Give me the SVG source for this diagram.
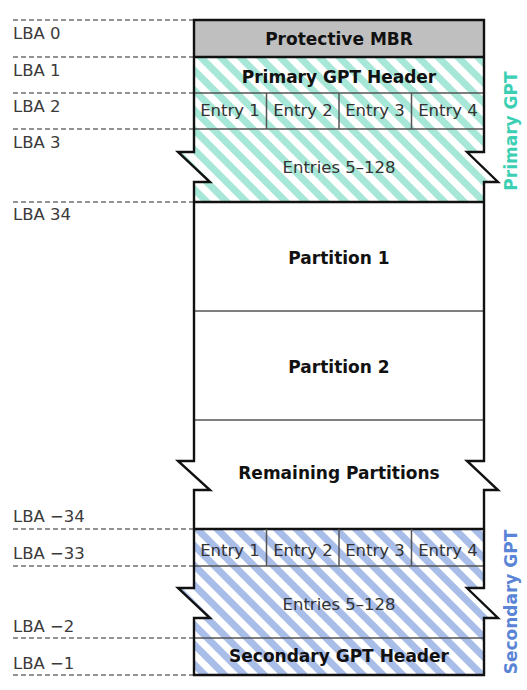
<svg xmlns="http://www.w3.org/2000/svg" width="527" height="690" viewBox="0 0 527 690">
  <style>
    .lba { font-family: "DejaVu Sans", sans-serif; font-size: 16.5px; fill: #3a3a3a; }
    .dash { stroke: #707070; stroke-width: 1.6; stroke-dasharray: 5 3; fill: none; }
    .bold { font-family: "DejaVu Sans", sans-serif; font-size: 17px; font-weight: bold; fill: #111; text-anchor: middle; }
    .norm { font-family: "DejaVu Sans", sans-serif; font-size: 16.5px; fill: #333; text-anchor: middle; }
    .thin { stroke: #555; stroke-width: 1.5; fill: none; }
    .thick { stroke: #111; stroke-width: 2.4; fill: none; }
    .outline { stroke: #111; stroke-width: 2.4; fill: none; stroke-linejoin: miter; }
    .side { font-family: "DejaVu Sans", sans-serif; font-size: 17px; font-weight: bold; text-anchor: middle; }
  </style>
  <defs>
    <pattern id="hatchTeal" width="14" height="14" patternUnits="userSpaceOnUse" patternTransform="rotate(-45)">
      <rect width="14" height="14" fill="#ffffff"/>
      <rect width="7" height="14" fill="#a7e7d7"/>
    </pattern>
    <pattern id="hatchBlue" width="14" height="14" patternUnits="userSpaceOnUse" patternTransform="rotate(-45)">
      <rect width="14" height="14" fill="#ffffff"/>
      <rect width="7" height="14" fill="#a9bde9"/>
    </pattern>
    <path id="diskOutline" d="M194,20 V152 H178 L210,182 H194 V461 H178 L210,490 H194 V588 H178 L210,618 H194 V675 H484 V618 H498 L467,588 H484 V490 H498 L467,461 H484 V182 H498 L467,152 H484 V20 Z"/>
    <clipPath id="diskClip">
      <use href="#diskOutline"/>
    </clipPath>
  </defs>

  <rect width="527" height="690" fill="#ffffff"/>

  <!-- LBA guide lines -->
  <g id="lba-guides">
    <path class="dash" d="M13,20 H194 M13,57 H194 M13,93 H194 M13,129 H194 M13,202 H194 M13,529 H194 M13,566 H194 M13,638 H194 M13,675 H194"/>
    <text class="lba" x="13" y="39">LBA 0</text>
    <text class="lba" x="13" y="76">LBA 1</text>
    <text class="lba" x="13" y="112">LBA 2</text>
    <text class="lba" x="13" y="148">LBA 3</text>
    <text class="lba" x="13" y="220">LBA 34</text>
    <text class="lba" x="13" y="522">LBA −34</text>
    <text class="lba" x="13" y="559">LBA −33</text>
    <text class="lba" x="13" y="632">LBA −2</text>
    <text class="lba" x="13" y="669">LBA −1</text>
  </g>

  <!-- region fills, clipped to the disk outline -->
  <g id="fills" clip-path="url(#diskClip)">
    <rect x="170" y="20" width="340" height="37" fill="#bfbfbf"/>
    <rect x="170" y="57" width="340" height="145" fill="url(#hatchTeal)"/>
    <rect x="170" y="202" width="340" height="327" fill="#ffffff"/>
    <rect x="170" y="529" width="340" height="146" fill="url(#hatchBlue)"/>
  </g>

  <g id="protective-mbr">
    <text class="bold" x="339" y="45">Protective MBR</text>
  </g>

  <g id="primary-header">
    <line class="thick" x1="194" y1="57" x2="484" y2="57"/>
    <text class="bold" x="339" y="83">Primary GPT Header</text>
  </g>

  <g id="primary-entries">
    <path class="thin" d="M194,93 H484 M194,129 H484 M266.5,93 V129 M339,93 V129 M411.5,93 V129"/>
    <text class="norm" x="230" y="116">Entry 1</text>
    <text class="norm" x="303" y="116">Entry 2</text>
    <text class="norm" x="375" y="116">Entry 3</text>
    <text class="norm" x="448" y="116">Entry 4</text>
    <text class="norm" x="339" y="173">Entries 5–128</text>
  </g>

  <g id="partition-1">
    <line class="thick" x1="194" y1="202" x2="484" y2="202"/>
    <text class="bold" x="339" y="264">Partition 1</text>
  </g>

  <g id="partition-2">
    <line class="thin" x1="194" y1="311" x2="484" y2="311" stroke-width="2"/>
    <text class="bold" x="339" y="373">Partition 2</text>
  </g>

  <g id="remaining-partitions">
    <line class="thin" x1="194" y1="420" x2="484" y2="420" stroke-width="2"/>
    <text class="bold" x="339" y="479">Remaining Partitions</text>
  </g>

  <g id="secondary-entries">
    <line class="thick" x1="194" y1="529" x2="484" y2="529"/>
    <path class="thin" d="M194,566 H484 M266.5,529 V566 M339,529 V566 M411.5,529 V566"/>
    <text class="norm" x="230" y="556">Entry 1</text>
    <text class="norm" x="303" y="556">Entry 2</text>
    <text class="norm" x="375" y="556">Entry 3</text>
    <text class="norm" x="448" y="556">Entry 4</text>
    <text class="norm" x="339" y="610">Entries 5–128</text>
  </g>

  <g id="secondary-header">
    <line class="thin" x1="194" y1="638" x2="484" y2="638"/>
    <text class="bold" x="339" y="662">Secondary GPT Header</text>
  </g>

  <!-- disk outline with break marks -->
  <g id="outline">
    <use href="#diskOutline" class="outline"/>
  </g>

  <g id="side-labels">
    <text class="side" fill="#3ccfb4" transform="translate(517,131) rotate(-90)">Primary GPT</text>
    <text class="side" fill="#5a84d6" transform="translate(517,602) rotate(-90)">Secondary GPT</text>
  </g>
</svg>
